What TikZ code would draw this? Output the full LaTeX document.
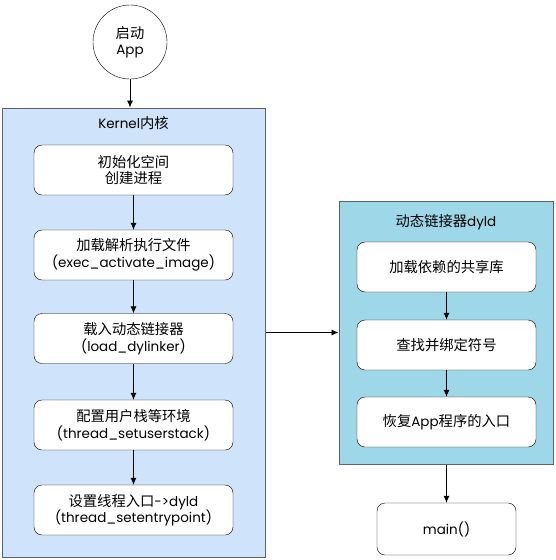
\documentclass[tikz,border=0pt]{standalone}
\usepackage{fontspec}
\setmainfont{Poppins}
\newfontfamily\cjk[Scale=1.06]{Noto Sans CJK SC}
\usetikzlibrary{arrows.meta}
\definecolor{kernelblue}{HTML}{CFE3FA}
\definecolor{dyldblue}{HTML}{9ED8E8}
\definecolor{frame}{HTML}{5A6270}
\tikzset{grp/.style={draw=frame, line width=1pt},
  stp/.style={draw, rounded corners=8pt, fill=white, align=center, inner sep=2pt},
  ttl/.style={inner sep=1pt},
  arr/.style={-{Latex[length=7pt,width=6pt]}, line width=.8pt}}

\begin{document}
\begin{tikzpicture}[x=1pt, y=-1pt, font=\fontsize{13.5}{16.5}\selectfont]
\useasboundingbox (0,0) rectangle (555,560);
% containers
\node[grp, fill=kernelblue, minimum width=263pt, minimum height=449pt] (kernel) at (133.5,332.5) {};
\node[grp, fill=dyldblue, minimum width=214pt, minimum height=263pt] (dyld) at (446,332.5) {};
\node[ttl] (kt) at (133.5,123) {Kernel{\cjk 内核}};
\node[ttl] (dt) at (446,222) {{\cjk 动态链接器}dyld};
% start
\node[circle, draw, fill=white, minimum size=74pt, align=center, inner sep=0pt] (app) at (130,42) {{\cjk 启动}\\App};
% kernel steps
\node[stp, minimum width=199pt, minimum height=50pt] (k1) at (133.5,170) {{\cjk 初始化空间}\\{\cjk 创建进程}};
\node[stp, minimum width=199pt, minimum height=50pt] (k2) at (133.5,255) {{\cjk 加载解析执行文件}\\(exec\_activate\_image)};
\node[stp, minimum width=199pt, minimum height=50pt] (k3) at (133.5,338.5) {{\cjk 载入动态链接器}\\(load\_dylinker)};
\node[stp, minimum width=199pt, minimum height=50pt] (k4) at (133.5,425) {{\cjk 配置用户栈等环境}\\(thread\_setuserstack)};
\node[stp, minimum width=199pt, minimum height=50pt] (k5) at (133.5,510) {{\cjk 设置线程入口}->dyld\\(thread\_setentrypoint)};
% dyld steps
\node[stp, minimum width=179pt, minimum height=50pt] (d1) at (446.5,267) {\cjk 加载依赖的共享库};
\node[stp, minimum width=179pt, minimum height=50pt] (d2) at (446.5,345) {\cjk 查找并绑定符号};
\node[stp, minimum width=179pt, minimum height=50pt] (d3) at (446.5,422) {{\cjk 恢复}App{\cjk 程序的入口}};
\node[stp, minimum width=139pt, minimum height=52pt] (main) at (446.5,529) {main()};
% arrows
\draw[arr] (app) -- (app |- kernel.north);
\draw[arr] (k1) -- (k2);
\draw[arr] (k2) -- (k3);
\draw[arr] (k3) -- (k4);
\draw[arr] (k4) -- (k5);
\draw[arr] (kernel.east) -- (dyld.west);
\draw[arr] (d1) -- (d2);
\draw[arr] (d2) -- (d3);
\draw[arr] (dyld.south -| main) -- (main);
\end{tikzpicture}
\end{document}
